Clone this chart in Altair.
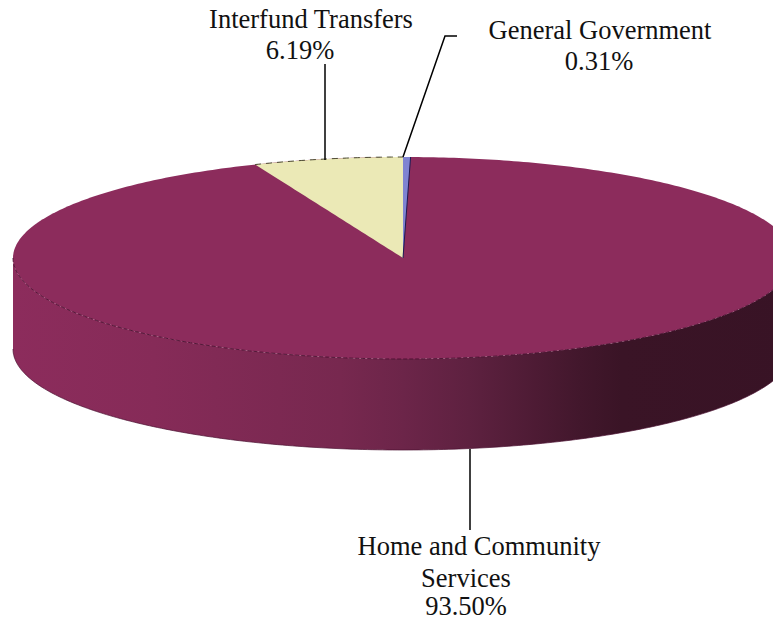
import numpy as np
import pandas as pd
import altair as alt

categories = ["General Government", "Home and Community Services", "Interfund Transfers"]
shares = [0.31, 93.50, 6.19]
colours = ["#7F83D2", "#8C2C5C", "#EBE9B6"]

# ellipse geometry, in picture pixels
CX, CY, A, B, DEPTH = 403.0, 258.0, 390.0, 101.0, 91.0

label_lines = ["Interfund Transfers", "6.19%", "General Government", "0.31%",
               "Home and Community", "Services", "93.50%"]
label_x = [311, 300, 600, 599, 479, 466, 466]
label_y = [28, 59, 39, 70, 555, 587, 615]

leader_group = [0, 0, 1, 1, 1, 2, 2]
leader_x = [325, 325, 403, 445, 457, 470, 470]
leader_y = [160, 64, 157, 36, 36, 449, 530]


def pt(turn):
    return CX + A * np.sin(turn), CY - B * np.cos(turn)


X = alt.X("x:Q", scale=alt.Scale(domain=[8, 773], zero=False, nice=False), axis=None)
Y = alt.Y("y:Q", scale=alt.Scale(domain=[8, 616], zero=False, nice=False, reverse=True), axis=None)
Y2 = alt.Y2("y2:Q")

t = np.linspace(-np.pi / 2, np.pi / 2, 241)
ex = CX + A * np.sin(t)
upper = CY - B * np.cos(t)
lower = CY + B * np.cos(t)

gradient = alt.LinearGradient(
    gradient="linear", x1=0, x2=1, y1=0, y2=0,
    stops=[
        alt.GradientStop(color="#8C2C5C", offset=0.0),
        alt.GradientStop(color="#862B58", offset=0.18),
        alt.GradientStop(color="#77284F", offset=0.42),
        alt.GradientStop(color="#6C2549", offset=0.50),
        alt.GradientStop(color="#5E2140", offset=0.585),
        alt.GradientStop(color="#42172C", offset=0.727),
        alt.GradientStop(color="#3A1426", offset=0.78),
        alt.GradientStop(color="#381325", offset=1.0),
    ],
)

side = alt.Chart(pd.DataFrame({"x": ex, "y": lower, "y2": lower + DEPTH})).mark_area(
    color=gradient
).encode(x=X, y=Y, y2=Y2)

top = alt.Chart(pd.DataFrame({"x": ex, "y": upper, "y2": lower})).mark_area(
    color=colours[1]
).encode(x=X, y=Y, y2=Y2)


# Interfund slice runs anticlockwise from 12 o'clock, General Government clockwise
def wedge(start, end):
    turn = np.linspace(start, end, 41)
    wx, wy = pt(turn)
    outer = start if abs(start) > abs(end) else end
    edge_x, edge_y = pt(outer)
    lin = CY + (edge_y - CY) * (wx - CX) / (edge_x - CX)
    return pd.DataFrame({"x": wx, "y": wy, "y2": lin})


turn_inter = -shares[2] / 100 * 2 * np.pi
turn_gov = shares[0] / 100 * 2 * np.pi

inter_df = wedge(turn_inter, 0.0)
cream = alt.Chart(inter_df).mark_area(color=colours[2]).encode(x=X, y=Y, y2=Y2)
blue = alt.Chart(wedge(0.0, turn_gov)).mark_area(color=colours[0]).encode(x=X, y=Y, y2=Y2)

gov_edge_x, gov_edge_y = pt(turn_gov)
blue_edge = alt.Chart(pd.DataFrame({"x": [gov_edge_x, CX], "y": [gov_edge_y, CY]})).mark_line(
    color="#1E1A50", strokeWidth=1
).encode(x=X, y=Y)

cream_outline = alt.Chart(inter_df).mark_line(
    color="#4A4A30", strokeWidth=1, strokeDash=[6, 5]
).encode(x=X, y=Y)

rim = alt.Chart(pd.DataFrame({"x": ex, "y": lower})).mark_line(
    color="#4A1030", strokeWidth=0.9, strokeDash=[4, 2]
).encode(x=X, y=Y)

base = alt.Chart(pd.DataFrame({"x": ex, "y": lower + DEPTH})).mark_line(
    color="#4A1030", strokeWidth=0.7
).encode(x=X, y=Y)

leaders = alt.Chart(pd.DataFrame({"x": leader_x, "y": leader_y, "g": leader_group})).mark_line(
    color="#000000", strokeWidth=1.5
).encode(x=X, y=Y, detail="g:N", order=alt.Order("o:Q")).transform_window(o="row_number()")

labels = alt.Chart(pd.DataFrame({"x": label_x, "y": label_y, "t": label_lines})).mark_text(
    font="Liberation Serif", fontSize=26.5, color="#111111", align="center", baseline="alphabetic"
).encode(x=X, y=Y, text="t:N")

chart = alt.layer(side, top, cream, blue, blue_edge, cream_outline, rim, base, leaders, labels).properties(
    width=765, height=608, padding=0, autosize=alt.AutoSizeParams(type="none")
).configure_view(stroke=None)

chart.save("out.html", embed_options={"renderer": "svg", "actions": False})
